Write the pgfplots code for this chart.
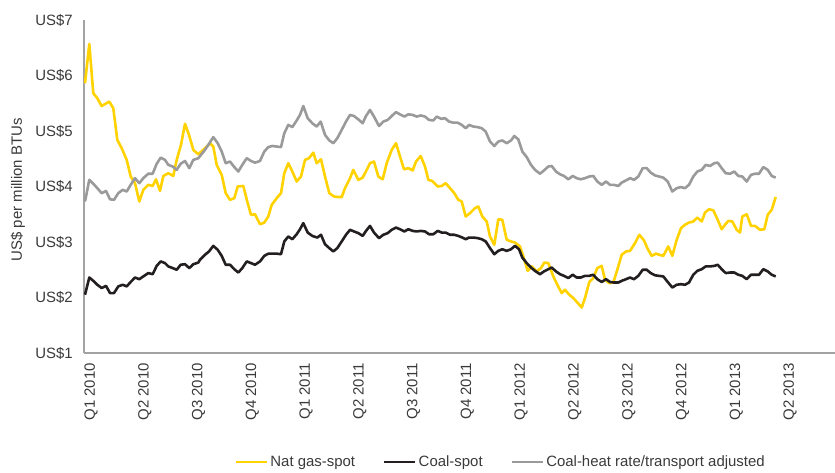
\documentclass[border=0pt]{standalone}
\usepackage{fontspec}
\setmainfont{Liberation Sans}
\usepackage{pgfplots}
\usepackage{pgfplotstable}
\pgfplotsset{compat=1.18}

\definecolor{gasyellow}{HTML}{FFD200}
\definecolor{coalblack}{HTML}{231F20}
\definecolor{heatgray}{HTML}{9A9A9A}
\definecolor{axisgray}{HTML}{A3A3A3}
\definecolor{txtgray}{HTML}{3A3A3A}

% x = position along the time axis (Q1 2010 at 91, one quarter = 53.77)
% y = US$ per million BTUs
\pgfplotstableread{
x y
85 5.86
89.3 6.57
93.3 5.68
97.3 5.59
101.7 5.45
109.3 5.53
113.3 5.41
117.3 4.84
121.7 4.69
126.7 4.48
130.7 4.18
135 4.06
139.3 3.73
143.3 3.94
148.3 4.03
152.7 4.01
156 4.13
160 3.92
163.3 4.19
168.3 4.24
173.3 4.19
176.7 4.48
181 4.75
185 5.13
189 4.93
193.3 4.66
198.3 4.58
205 4.69
210 4.78
213.3 4.72
216.7 4.39
221.7 4.21
225.7 3.88
230 3.76
234.3 3.79
237.7 4.00
243.3 4.01
247.7 3.70
251 3.49
255 3.50
260 3.32
264.3 3.35
268.3 3.46
271.7 3.67
276.7 3.79
281 3.88
284.3 4.24
288.3 4.42
292.3 4.27
296.7 4.09
301 4.18
305 4.48
309 4.51
313.3 4.61
316.7 4.42
321 4.49
325 4.18
329.3 3.88
334 3.82
338.3 3.81
341.7 3.81
345 3.97
350 4.15
353.3 4.30
358.3 4.12
362.7 4.16
366.7 4.30
370 4.42
374 4.45
378.3 4.18
382.7 4.13
386.7 4.42
391.7 4.66
396 4.78
400 4.54
404 4.31
408.3 4.33
412.7 4.29
416 4.45
420.7 4.55
425 4.36
428.3 4.12
432.3 4.10
437.7 4.00
441.7 4.01
445.7 4.06
450 3.97
454.3 3.88
458.3 3.76
461.7 3.73
465.7 3.46
470 3.52
475 3.61
478.3 3.64
482.3 3.46
486.7 3.37
490 3.10
494.3 2.95
498.3 3.41
502.3 3.40
506.7 3.04
511 3.01
515 2.99
520 2.92
523.3 2.74
527.7 2.48
531.7 2.56
536.7 2.47
541 2.53
544.3 2.63
548.3 2.62
553.3 2.38
557.3 2.23
561.7 2.08
565 2.14
569.3 2.05
573.3 1.99
577.3 1.91
581.7 1.82
585 1.99
589.3 2.28
593.3 2.35
597.3 2.53
601.7 2.57
605 2.32
609.3 2.26
613.3 2.27
617.3 2.50
621.7 2.77
626 2.83
630 2.84
635 2.98
639.3 3.13
644 3.03
647.3 2.89
651.7 2.75
656 2.79
659.3 2.77
663.3 2.75
668.3 2.92
672.3 2.75
676.7 3.04
681 3.25
685 3.31
689 3.35
693.3 3.37
697.3 3.44
701.7 3.37
705 3.53
709 3.59
713.3 3.57
717.7 3.40
721.7 3.23
725 3.31
728.3 3.38
732.3 3.37
736.7 3.22
740 3.17
742.3 3.46
746.7 3.50
751 3.29
755 3.29
760 3.22
764.3 3.23
767.7 3.49
771.7 3.58
775.7 3.81
}\natgas

\pgfplotstableread{
x y
85 2.05
89.3 2.36
93.3 2.30
97.3 2.23
101.7 2.17
106 2.21
110 2.08
114 2.08
118.3 2.20
122.7 2.23
126.7 2.20
130.7 2.28
135 2.36
139.3 2.33
143.3 2.38
148.3 2.44
152.7 2.42
156.7 2.57
160.7 2.65
165 2.62
168.3 2.56
172.7 2.53
176.7 2.50
180.7 2.59
185 2.60
189.3 2.53
193.3 2.60
198.3 2.63
200 2.68
205 2.77
209 2.83
213.3 2.93
217.7 2.86
221.7 2.75
225.7 2.59
230 2.59
234.3 2.51
238.3 2.45
242.3 2.53
246.7 2.65
251 2.62
255 2.59
260 2.65
264.3 2.75
268.3 2.79
272.3 2.79
276.7 2.79
281 2.78
284.3 3.01
288.3 3.10
292.3 3.05
296.7 3.14
300 3.23
303.3 3.34
307.7 3.17
312.3 3.11
317.3 3.08
321 3.13
325 2.96
329.3 2.89
333.3 2.83
337.3 2.89
341.7 3.01
346 3.13
350 3.22
354 3.19
358.3 3.16
362.7 3.11
366 3.20
370 3.29
374 3.17
379 3.07
383.3 3.13
387.7 3.16
391.7 3.22
396 3.26
400 3.23
404.3 3.19
408.3 3.23
412.7 3.20
416.7 3.19
420.7 3.20
425 3.19
429 3.14
433.3 3.14
437.7 3.20
441.7 3.17
445.7 3.17
450 3.13
454.3 3.13
458.3 3.11
462.3 3.08
465.7 3.05
469 3.08
473.3 3.08
477.7 3.07
481.7 3.05
485.7 3.01
490 2.89
494.3 2.78
498.3 2.84
502.3 2.87
506.7 2.84
511 2.87
515 2.93
519 2.87
522.3 2.72
526.7 2.62
531 2.54
535 2.48
540 2.42
544 2.47
548.3 2.51
551.7 2.54
556 2.47
560 2.42
564 2.39
568.3 2.35
572.7 2.41
576.7 2.36
580.7 2.36
585 2.39
589.3 2.39
593.3 2.41
597.3 2.33
601.7 2.28
606 2.33
610 2.28
614 2.27
618.3 2.27
621.7 2.30
626 2.33
630 2.36
634 2.33
638.3 2.39
642.7 2.50
646.7 2.50
650.7 2.44
655 2.40
659 2.39
663.3 2.38
667.7 2.28
672.3 2.18
676.7 2.23
681 2.24
685 2.23
689 2.27
693.3 2.41
697.3 2.48
701.7 2.51
705.7 2.56
710 2.56
714.3 2.57
717.7 2.59
721.7 2.51
725.7 2.44
730 2.45
734.3 2.45
738.3 2.41
742.3 2.39
746.7 2.33
751 2.41
755 2.41
759 2.41
763.3 2.51
767.7 2.47
771.7 2.41
775.7 2.38
}\coalspot

\pgfplotstableread{
x y
85 3.73
89.3 4.12
93.3 4.05
97.3 3.97
101.7 3.88
106 3.92
110 3.77
114 3.76
118.3 3.88
122.7 3.94
126.7 3.91
130.7 4.03
135 4.15
139.3 4.06
143.3 4.15
148.3 4.23
152.7 4.23
156.7 4.41
160.7 4.52
165 4.48
168.3 4.39
172.7 4.36
176.7 4.30
180.7 4.41
185 4.46
189.3 4.33
193.3 4.48
198.3 4.51
205 4.66
209 4.77
213.3 4.89
217.7 4.78
221.7 4.63
225.7 4.42
230 4.45
234.3 4.35
238.3 4.27
242.3 4.39
246.7 4.51
251 4.46
255 4.43
260 4.46
264.3 4.63
268.3 4.71
272.3 4.73
276.7 4.72
281 4.71
284.3 4.96
288.3 5.11
292.3 5.07
296.7 5.19
300 5.29
303.3 5.45
307.7 5.23
312.3 5.14
316.7 5.08
320.7 5.17
325 4.93
329.3 4.83
333.3 4.78
337.3 4.87
341.7 5.02
346 5.17
350 5.29
354 5.27
358.3 5.21
362.7 5.14
366 5.27
370 5.38
374 5.26
379 5.09
383.3 5.17
387.7 5.20
391.7 5.27
396 5.34
400 5.30
404.3 5.26
408.3 5.30
412.7 5.29
416.7 5.26
420.7 5.28
425 5.26
429 5.20
433.3 5.19
436.7 5.26
441 5.22
445 5.23
449 5.17
453.3 5.15
457.7 5.15
461.7 5.11
465.7 5.05
469 5.11
473.3 5.08
477.7 5.07
481.7 5.05
485.7 4.99
490 4.81
494.3 4.73
498.3 4.81
502.3 4.83
506.7 4.78
511 4.83
514.3 4.91
518.3 4.85
522.3 4.63
526.7 4.53
531 4.39
535 4.30
540 4.23
544 4.29
548.3 4.36
551.7 4.37
556 4.27
560 4.22
564 4.19
568.3 4.13
572.7 4.19
576.7 4.15
580.7 4.13
585 4.15
589.3 4.18
593.3 4.19
597.3 4.09
601.7 4.03
606 4.09
610 4.03
614 4.03
618.3 4.01
621.7 4.07
626 4.11
630 4.15
634 4.12
638.3 4.18
642.7 4.33
646.7 4.33
650.7 4.25
655 4.20
659 4.18
663.3 4.16
667.7 4.09
672.3 3.91
676.7 3.97
681 3.99
685 3.97
689 4.03
693.3 4.18
697.3 4.27
701.7 4.30
705.7 4.39
710 4.37
714.3 4.42
717.7 4.43
721.7 4.33
725.7 4.24
730 4.23
734.3 4.27
738.3 4.19
742.3 4.18
746.7 4.09
751 4.21
755 4.23
759 4.23
763.3 4.35
767.7 4.30
771.7 4.19
775.7 4.16
}\heatrate

\begin{document}
\begin{tikzpicture}
\useasboundingbox (-84bp,-120bp) rectangle (751bp,353bp);
\begin{axis}[
    scale only axis,
    width=751bp, height=333bp,
    at={(0,0)}, anchor=south west,
    xmin=84, xmax=835,
    ymin=1, ymax=7,
    axis x line*=bottom,
    axis y line*=left,
    axis line style={axisgray, line width=1.2bp},
    major tick length=0pt,
    font=\fontsize{15}{18}\selectfont\color{txtgray},
    xtick={91,144.77,198.54,252.31,306.08,359.85,413.62,467.39,521.16,574.93,628.7,682.47,736.24,790.01},
    xticklabels={Q1 2010,Q2 2010,Q3 2010,Q4 2010,Q1 2011,Q2 2011,Q3 2011,Q4 2011,Q1 2012,Q2 2012,Q3 2012,Q4 2012,Q1 2013,Q2 2013},
    xticklabel style={rotate=90, anchor=east, inner xsep=10bp, inner ysep=0pt},
    ytick={1,2,3,4,5,6,7},
    yticklabels={US\$1,US\$2,US\$3,US\$4,US\$5,US\$6,US\$7},
    yticklabel style={anchor=east, inner xsep=11bp, inner ysep=0pt},
    ylabel={US\$ per million BTUs},
    ylabel style={at={(axis description cs:-0.088,0.49)}, anchor=center},
    legend columns=3,
    legend style={at={(axis description cs:0.555,-0.327)}, anchor=center,
        draw=none, fill=none, font=\fontsize{15}{18}\selectfont\color{txtgray},
        /tikz/every even column/.append style={column sep=26bp}},
    legend image code/.code={\draw[#1, line width=2.6bp] (0bp,0bp) -- (31bp,0bp);},
    every axis plot/.append style={line width=2.6bp, line join=round},
]
\addplot[gasyellow] table[x=x, y=y] {\natgas};
\addplot[coalblack] table[x=x, y=y] {\coalspot};
\addplot[heatgray] table[x=x, y=y] {\heatrate};
\legend{Nat gas-spot, Coal-spot, Coal-heat rate/transport adjusted}
\end{axis}
\end{tikzpicture}
\end{document}
